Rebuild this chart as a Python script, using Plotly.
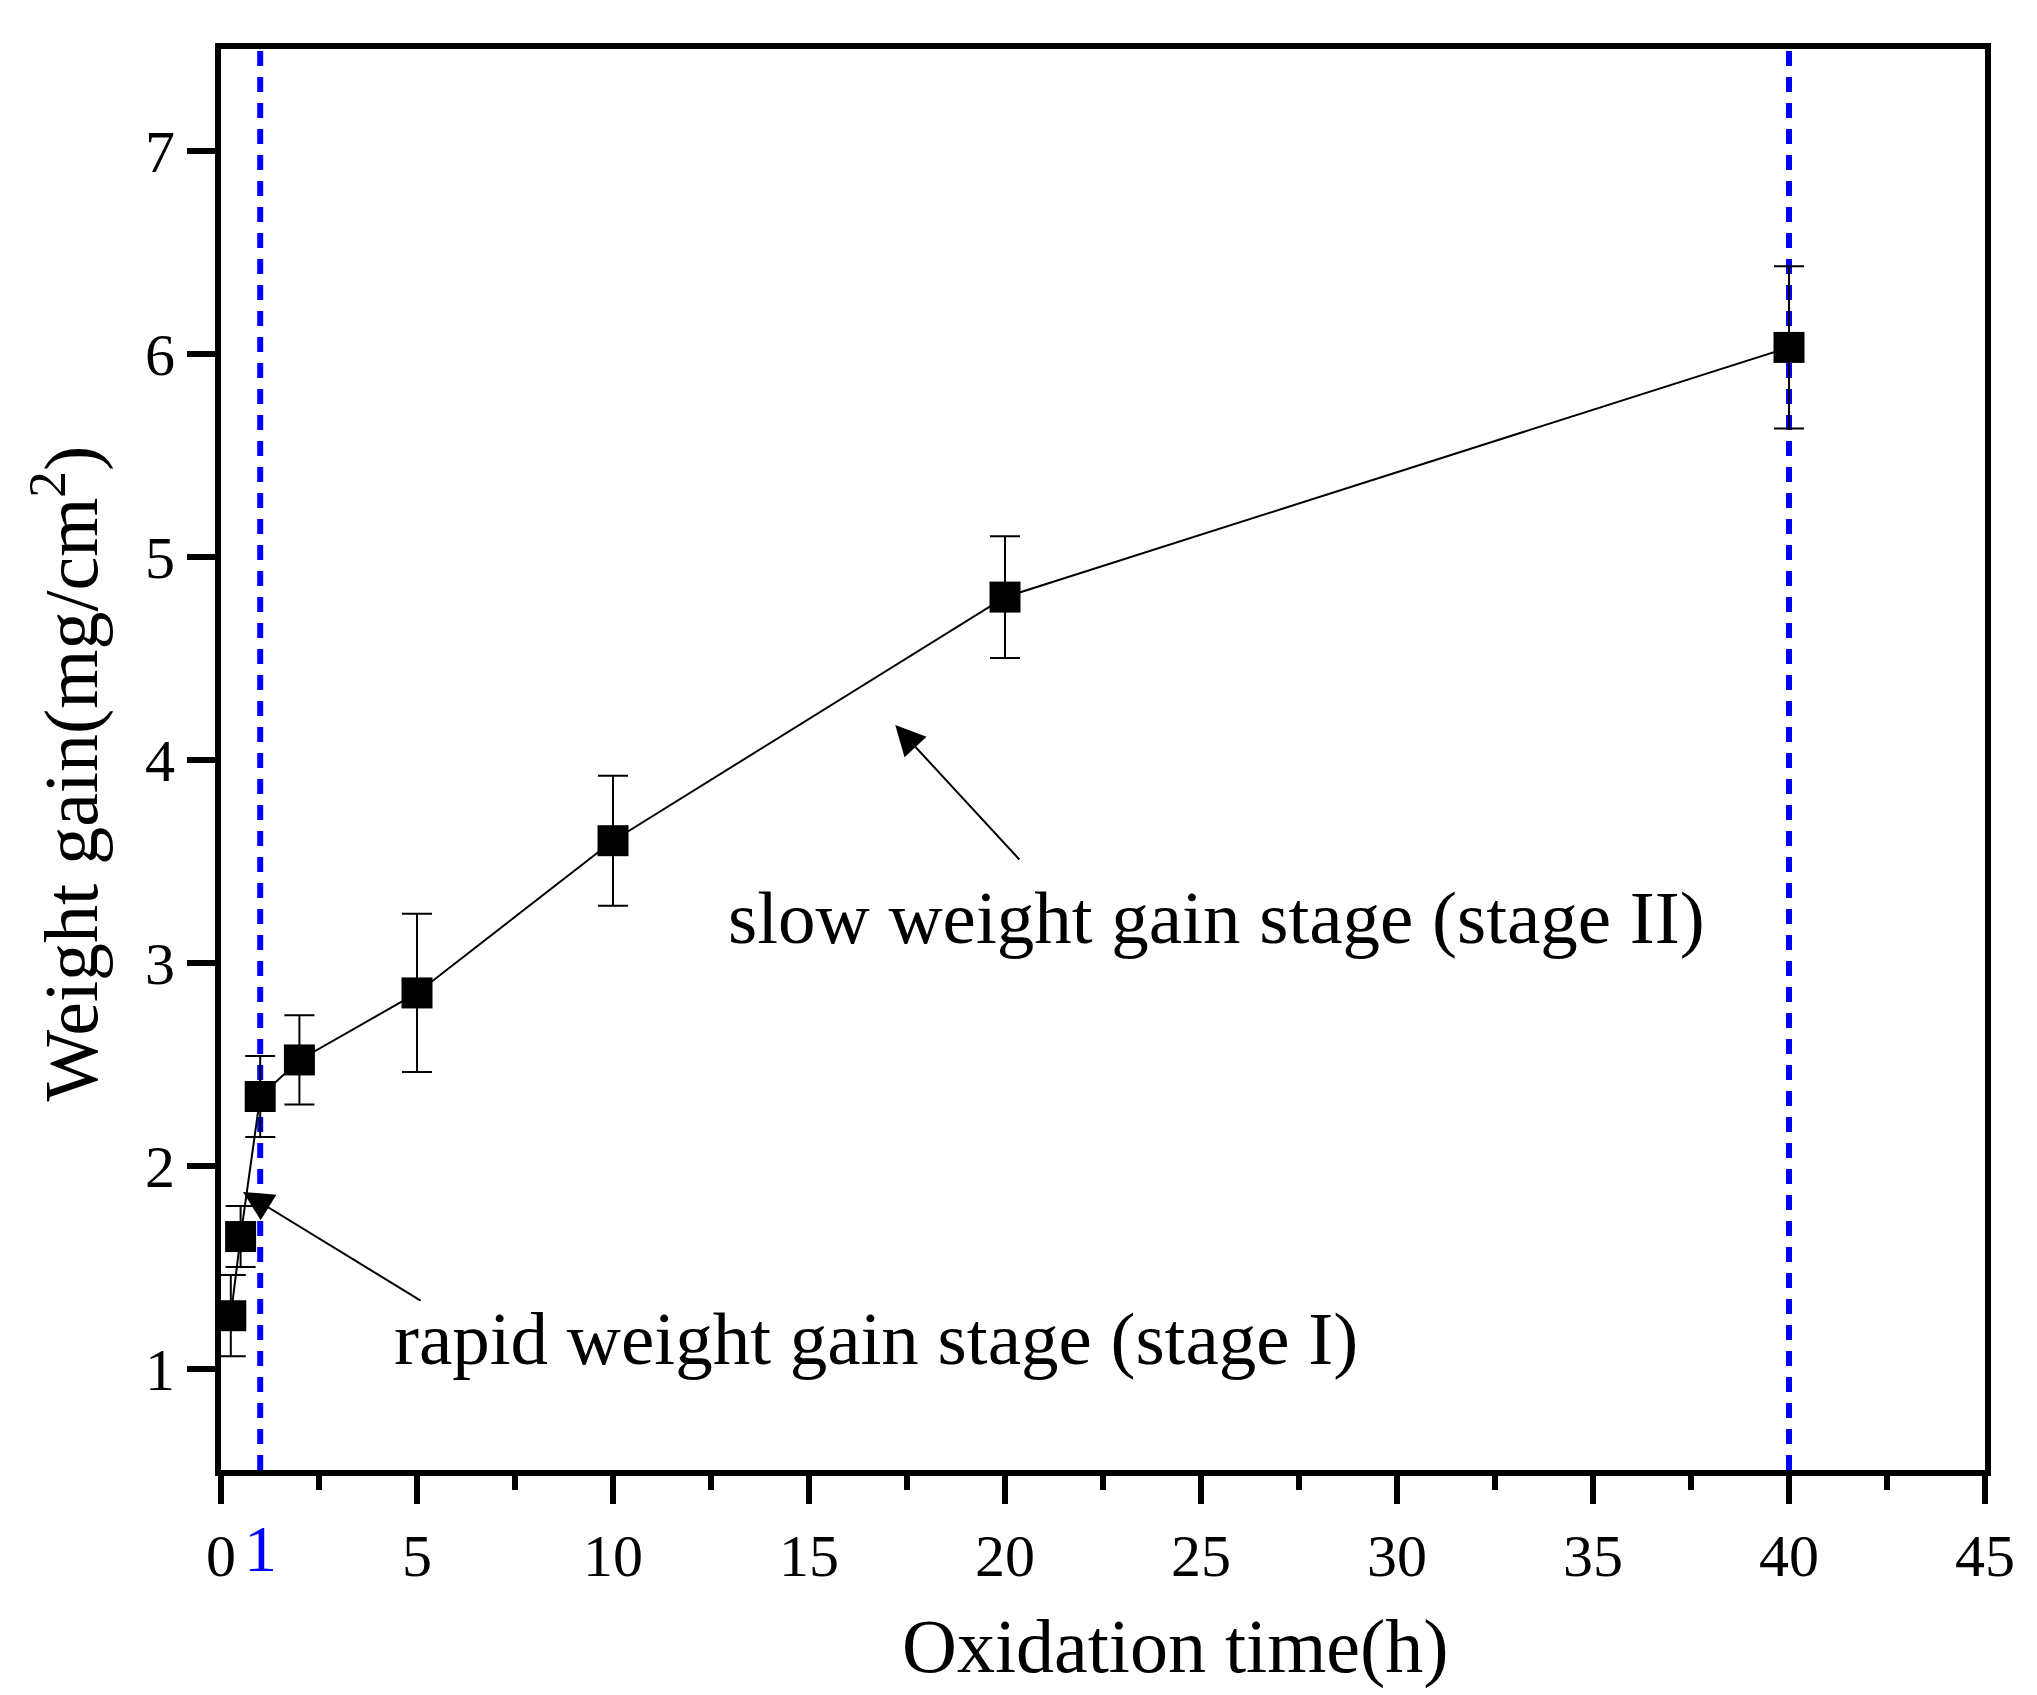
import plotly.graph_objects as go

# Oxidation time (h) and weight gain (mg/cm2) with error
time_h = [0.25, 0.5, 1, 2, 5, 10, 20, 40]
weight_gain = [1.26, 1.65, 2.34, 2.52, 2.85, 3.60, 4.80, 6.03]
gain_err = [0.20, 0.15, 0.20, 0.22, 0.39, 0.32, 0.30, 0.40]

stage_bounds = [1, 40]
x_ticks = [0, 5, 10, 15, 20, 25, 30, 35, 40, 45]
y_ticks = [1, 2, 3, 4, 5, 6, 7]

FONT = "Liberation Serif, Times New Roman, serif"

fig = go.Figure()

# stage boundary lines (blue dashed)
for xb in stage_bounds:
    fig.add_shape(
        type="line",
        x0=xb, x1=xb, y0=0, y1=1,
        xref="x", yref="paper",
        line=dict(color="#0000ff", width=6, dash="15px,11px"),
        layer="below",
    )

fig.add_trace(
    go.Scatter(
        x=time_h,
        y=weight_gain,
        mode="lines+markers",
        line=dict(color="black", width=2),
        marker=dict(symbol="square", size=31, color="black"),
        error_y=dict(type="data", array=gain_err, color="black",
                     thickness=2, width=15),
        showlegend=False,
    )
)

# arrows
fig.add_annotation(
    x=17.2, y=4.17, ax=20.4, ay=3.5,
    xref="x", yref="y", axref="x", ayref="y",
    text="", showarrow=True, arrowhead=2, arrowsize=3,
    arrowwidth=2, arrowcolor="black",
)
fig.add_annotation(
    x=0.56, y=1.87, ax=5.13, ay=1.33,
    xref="x", yref="y", axref="x", ayref="y",
    text="", showarrow=True, arrowhead=2, arrowsize=3,
    arrowwidth=2, arrowcolor="black",
)

# stage labels
fig.add_annotation(
    x=25.4, y=3.22, xref="x", yref="y",
    text="slow weight gain stage (stage II)", showarrow=False,
    font=dict(family=FONT, size=75, color="black"),
)
fig.add_annotation(
    x=16.7, y=1.15, xref="x", yref="y",
    text="rapid weight gain stage (stage I)", showarrow=False,
    font=dict(family=FONT, size=75, color="black"),
)

# blue "1" tick label
fig.add_annotation(
    x=1, y=-0.055, xref="x", yref="paper",
    text="1", showarrow=False, yanchor="middle",
    font=dict(family=FONT, size=66, color="#0000ff"),
)

# axis titles
fig.add_annotation(
    x=0.541, y=-0.124, xref="paper", yref="paper",
    text="Oxidation time(h)", showarrow=False, yanchor="middle",
    font=dict(family=FONT, size=76, color="black"),
)
fig.add_annotation(
    x=-0.088, y=0.49, xref="paper", yref="paper",
    text="Weight gain(mg/cm<sup>2</sup>)", showarrow=False, textangle=-90,
    xanchor="center", yanchor="middle",
    font=dict(family=FONT, size=76, color="black"),
)

fig.update_xaxes(
    range=[0, 45],
    tickvals=x_ticks,
    ticks="outside", ticklen=28, tickwidth=6, tickcolor="black",
    minor=dict(ticks="outside", ticklen=14, tickwidth=6, tickcolor="black", dtick=2.5),
    showline=True, linewidth=6, linecolor="black", mirror=True,
    showgrid=False, zeroline=False,
    tickfont=dict(family=FONT, size=60, color="black"),
)
fig.update_yaxes(
    range=[0.5, 7.5],
    tickvals=y_ticks,
    ticks="outside", ticklen=28, tickwidth=6, tickcolor="black",
    showline=True, linewidth=6, linecolor="black", mirror=True,
    showgrid=False, zeroline=False,
    tickfont=dict(family=FONT, size=60, color="black"),
)

fig.update_layout(
    width=2037,
    height=1695,
    margin=dict(l=213, r=60, t=41, b=233),
    plot_bgcolor="white",
    paper_bgcolor="white",
)

fig.write_html("out.html")
